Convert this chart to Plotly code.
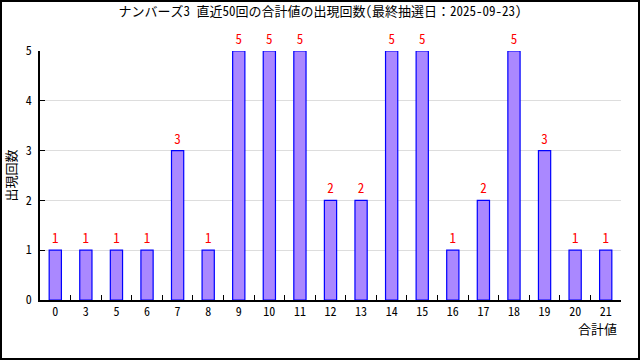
import plotly.graph_objects as go

categories = ["0", "3", "5", "6", "7", "8", "9", "10", "11", "12", "13", "14", "15", "16", "17", "18", "19", "20", "21"]
counts = [1, 1, 1, 1, 3, 1, 5, 5, 5, 2, 2, 5, 5, 1, 2, 5, 3, 1, 1]
title_text = "ナンバーズ3 直近50回の合計値の出現回数(最終抽選日：2025-09-23)"
y_title = "出現回数"
x_title = "合計値"

W, H = 640, 360
L, R, T, B = 40, 19, 51, 60
pw, ph = W - L - R, H - T - B

font_family = "Noto Sans Mono CJK JP, Noto Sans CJK JP, DejaVu Sans Mono, monospace"

fig = go.Figure(go.Bar(
    x=categories, y=counts,
    marker=dict(color="#aa88ff", line=dict(color="#0000ff", width=1.2)),
    width=0.4,
    text=[str(v) for v in counts], textposition="outside",
    textfont=dict(color="#ff0000", size=13, family=font_family),
    cliponaxis=False,
))

fig.update_layout(
    width=W, height=H,
    margin=dict(l=L, r=R, t=T, b=B),
    paper_bgcolor="white", plot_bgcolor="white",
    font=dict(family=font_family, size=12, color="black"),
    showlegend=False,
    title=dict(text=title_text, x=0.5, xanchor="center", y=1 - 11 / H, yanchor="middle",
               font=dict(size=13, family=font_family)),
    xaxis=dict(
        type="category", tickson="boundaries", ticks="inside", ticklen=5,
        tickcolor="black", showline=True, linecolor="black", linewidth=1.5,
        showgrid=False, tickfont=dict(size=12), ticklabelstandoff=0,
    ),
    yaxis=dict(
        range=[0, 5], dtick=1, ticks="inside", ticklen=5, tickcolor="black",
        showline=True, linecolor="black", linewidth=1.5,
        showgrid=True, gridcolor="#dddddd", gridwidth=1, zeroline=False,
        tickfont=dict(size=12), ticklabelstandoff=4,
    ),
    annotations=[
        dict(text=y_title, xref="paper", yref="paper", x=-30 / pw, y=0.5,
             textangle=-90, showarrow=False, xanchor="center", yanchor="middle",
             font=dict(size=13)),
        dict(text=x_title, xref="paper", yref="paper", x=1 - 2 / pw, y=-(328 - (T + ph)) / ph,
             showarrow=False, xanchor="right", yanchor="middle", font=dict(size=13)),
    ],
    shapes=[
        dict(type="rect", xref="paper", yref="paper",
             x0=-(L - 1) / pw, x1=1 + (R - 1) / pw,
             y0=-(B - 1) / ph, y1=1 + (T - 1) / ph,
             line=dict(color="black", width=2), layer="above"),
    ],
)

fig.write_html("out.html", config={"displayModeBar": False},
               post_script="document.body.style.margin='0px';document.body.style.padding='0px';")
